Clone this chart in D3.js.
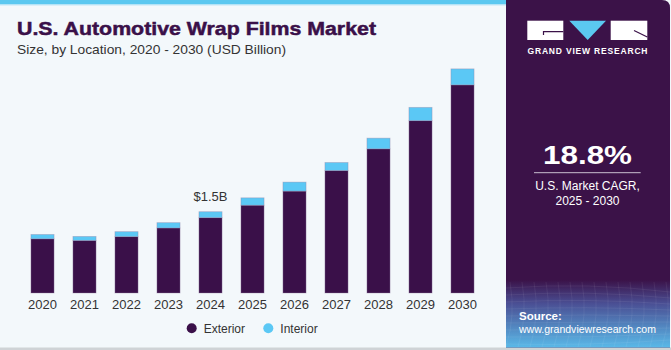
<!DOCTYPE html>
<html>
<head>
<meta charset="utf-8">
<script src="https://cdn.jsdelivr.net/npm/d3@7"></script>
<style>
  body { margin: 0; background: #f3f8fb; }
  svg { display: block; font-family: "Liberation Sans", Arial, sans-serif; }
  .axis text { font-size: 13px; fill: #333; }
</style>
</head>
<body>
<div id="chart"></div>
<script>
// data (USD Billion)
const years = ["2020", "2021", "2022", "2023", "2024", "2025", "2026", "2027", "2028", "2029", "2030"];
const exterior = [1.00, 0.97, 1.04, 1.20, 1.39, 1.62, 1.88, 2.26, 2.66, 3.18, 3.84];
const interior = [0.08, 0.074, 0.092, 0.098, 0.11, 0.136, 0.166, 0.148, 0.197, 0.245, 0.295];
const seriesKeys = ["Exterior", "Interior"];
const colors = ["#3a1049", "#5bc8f5"];

const width = 671, height = 350;

const svg = d3.select("#chart").append("svg")
    .attr("width", width)
    .attr("height", height);

// background + top stripe + bottom rule
svg.append("rect").attr("width", width).attr("height", height).attr("fill", "#f3f8fb");
svg.append("rect").attr("x", 0).attr("y", 0).attr("width", 510).attr("height", 4.5).attr("fill", "#5bc8f0");
svg.append("rect").attr("x", 0).attr("y", 4.5).attr("width", 510).attr("height", 1).attr("fill", "#bfe6f7");
svg.append("rect").attr("x", 0).attr("y", 347.5).attr("width", width).attr("height", 2.5).attr("fill", "#cfd3d6");

// title
svg.append("text")
    .attr("x", 17).attr("y", 35)
    .attr("font-size", 19).attr("font-weight", "bold")
    .attr("fill", "#3a1049")
    .attr("stroke", "#3a1049").attr("stroke-width", 0.5)
    .attr("textLength", 359).attr("lengthAdjust", "spacingAndGlyphs")
    .text("U.S. Automotive Wrap Films Market");

svg.append("text")
    .attr("x", 17).attr("y", 54)
    .attr("font-size", 13.5).attr("fill", "#333")
    .attr("textLength", 269).attr("lengthAdjust", "spacingAndGlyphs")
    .text("Size, by Location, 2020 - 2030 (USD Billion)");

// scales
const x = d3.scaleBand()
    .domain(years)
    .range([21.5, 483.5])
    .paddingInner(0.45)
    .paddingOuter(0.225);

const y = d3.scaleLinear()
    .domain([0, 4])
    .range([293, 76.2]);

const table = years.map((yr, i) => ({year: yr, Exterior: exterior[i], Interior: interior[i]}));
const series = d3.stack().keys(seriesKeys)(table);

// bars
svg.append("g").selectAll("g")
    .data(series)
    .join("g")
    .attr("fill", (d, i) => colors[i])
    .selectAll("rect")
    .data(d => d)
    .join("rect")
    .attr("x", d => x(d.data.year))
    .attr("y", d => y(d[1]))
    .attr("width", x.bandwidth())
    .attr("height", d => y(d[0]) - y(d[1]))
    .attr("stroke", "rgba(150,130,165,0.45)")
    .attr("stroke-width", 0.8);

// axis
const xAxis = svg.append("g")
    .attr("class", "axis")
    .attr("transform", `translate(0, 293)`)
    .call(d3.axisBottom(x).tickSize(0).tickPadding(6.3));
xAxis.select(".domain").remove();
xAxis.selectAll("text").attr("font-family", "Liberation Sans, Arial, sans-serif");

// annotation on 2024
const i24 = years.indexOf("2024");
svg.append("text")
    .attr("x", x("2024") + x.bandwidth() / 2)
    .attr("y", y(exterior[i24] + interior[i24]) - 11)
    .attr("text-anchor", "middle")
    .attr("font-size", 13).attr("fill", "#333")
    .text("$1.5B");

// legend
const legend = svg.append("g");
const legendX = [191.7, 268.3];
seriesKeys.forEach((k, i) => {
    legend.append("circle")
        .attr("cx", legendX[i]).attr("cy", 328.3).attr("r", 5)
        .attr("fill", colors[i]);
    legend.append("text")
        .attr("x", legendX[i] + 12).attr("y", 332.5)
        .attr("font-size", 12).attr("fill", "#333")
        .text(k);
});

// right panel
const defs = svg.append("defs");
const grad = defs.append("linearGradient")
    .attr("id", "srcGrad").attr("x1", 0).attr("y1", 0).attr("x2", 0).attr("y2", 1);
grad.append("stop").attr("offset", "0%").attr("stop-color", "#3b1248");
grad.append("stop").attr("offset", "35%").attr("stop-color", "#4a4f94");
grad.append("stop").attr("offset", "100%").attr("stop-color", "#5ab9e8");

const px0 = 506, px1 = 670, r = 8;
svg.append("path")
    .attr("d", `M${px0},0 H${px1 - r} Q${px1},0 ${px1},${r} V347.5 H${px0} Z`)
    .attr("fill", "#3b1248");
svg.append("rect")
    .attr("x", px0).attr("y", 280).attr("width", px1 - px0).attr("height", 67.5)
    .attr("fill", "url(#srcGrad)");

// faint mesh lines in source box
const mesh = svg.append("g").attr("stroke", "rgba(255,255,255,0.09)").attr("stroke-width", 0.7).attr("fill", "none");
d3.range(0, 9).forEach(j => {
    mesh.append("path")
        .attr("d", `M${px0},${288 + j * 7} Q${588},${282 + j * 8} ${px1},${292 + j * 6}`);
});
d3.range(0, 14).forEach(j => {
    mesh.append("path")
        .attr("d", `M${px0 + 4 + j * 12},282 Q${px0 + 10 + j * 12},315 ${px0 + j * 12},347`);
});

// logo
const logo = svg.append("g");
logo.append("rect").attr("x", 527.3).attr("y", 20.7).attr("width", 36).attr("height", 19.3).attr("fill", "#fff");
logo.append("path").attr("d", "M569.3,20.7 L606,20.7 L587.7,40 Z").attr("fill", "#5bc8f0");
logo.append("rect").attr("x", 610.7).attr("y", 20.7).attr("width", 36.6).attr("height", 19.3).attr("fill", "#fff");
logo.append("path").attr("d", "M563.3,31.7 H543.5 V35").attr("stroke", "#3b1248").attr("stroke-width", 1.2).attr("fill", "none");
logo.append("path").attr("d", "M634,30.5 L647.3,37").attr("stroke", "#3b1248").attr("stroke-width", 1.2).attr("fill", "none");
logo.append("text")
    .attr("x", 587.5).attr("y", 53.5)
    .attr("text-anchor", "middle")
    .attr("font-size", 8.5).attr("font-weight", "bold").attr("fill", "#fff")
    .attr("textLength", 120).attr("lengthAdjust", "spacing")
    .text("GRAND VIEW RESEARCH");

// CAGR
svg.append("text")
    .attr("x", 587.5).attr("y", 164.3)
    .attr("text-anchor", "middle")
    .attr("font-size", 25).attr("font-weight", "bold").attr("fill", "#fff")
    .attr("textLength", 89).attr("lengthAdjust", "spacingAndGlyphs")
    .text("18.8%");
svg.append("line")
    .attr("x1", 534).attr("x2", 640.7).attr("y1", 172.7).attr("y2", 172.7)
    .attr("stroke", "#c9bfd0").attr("stroke-width", 1);
svg.append("text")
    .attr("x", 587.5).attr("y", 189.5)
    .attr("text-anchor", "middle")
    .attr("font-size", 12).attr("fill", "#fff")
    .text("U.S. Market CAGR,");
svg.append("text")
    .attr("x", 587.5).attr("y", 204.5)
    .attr("text-anchor", "middle")
    .attr("font-size", 12).attr("fill", "#fff")
    .text("2025 - 2030");

// source
svg.append("text")
    .attr("x", 519).attr("y", 320)
    .attr("font-size", 11.5).attr("font-weight", "bold").attr("fill", "#fff")
    .text("Source:");
svg.append("text")
    .attr("x", 519).attr("y", 333)
    .attr("font-size", 11.5).attr("fill", "#fff")
    .attr("textLength", 137).attr("lengthAdjust", "spacingAndGlyphs")
    .text("www.grandviewresearch.com");
</script>
</body>
</html>
